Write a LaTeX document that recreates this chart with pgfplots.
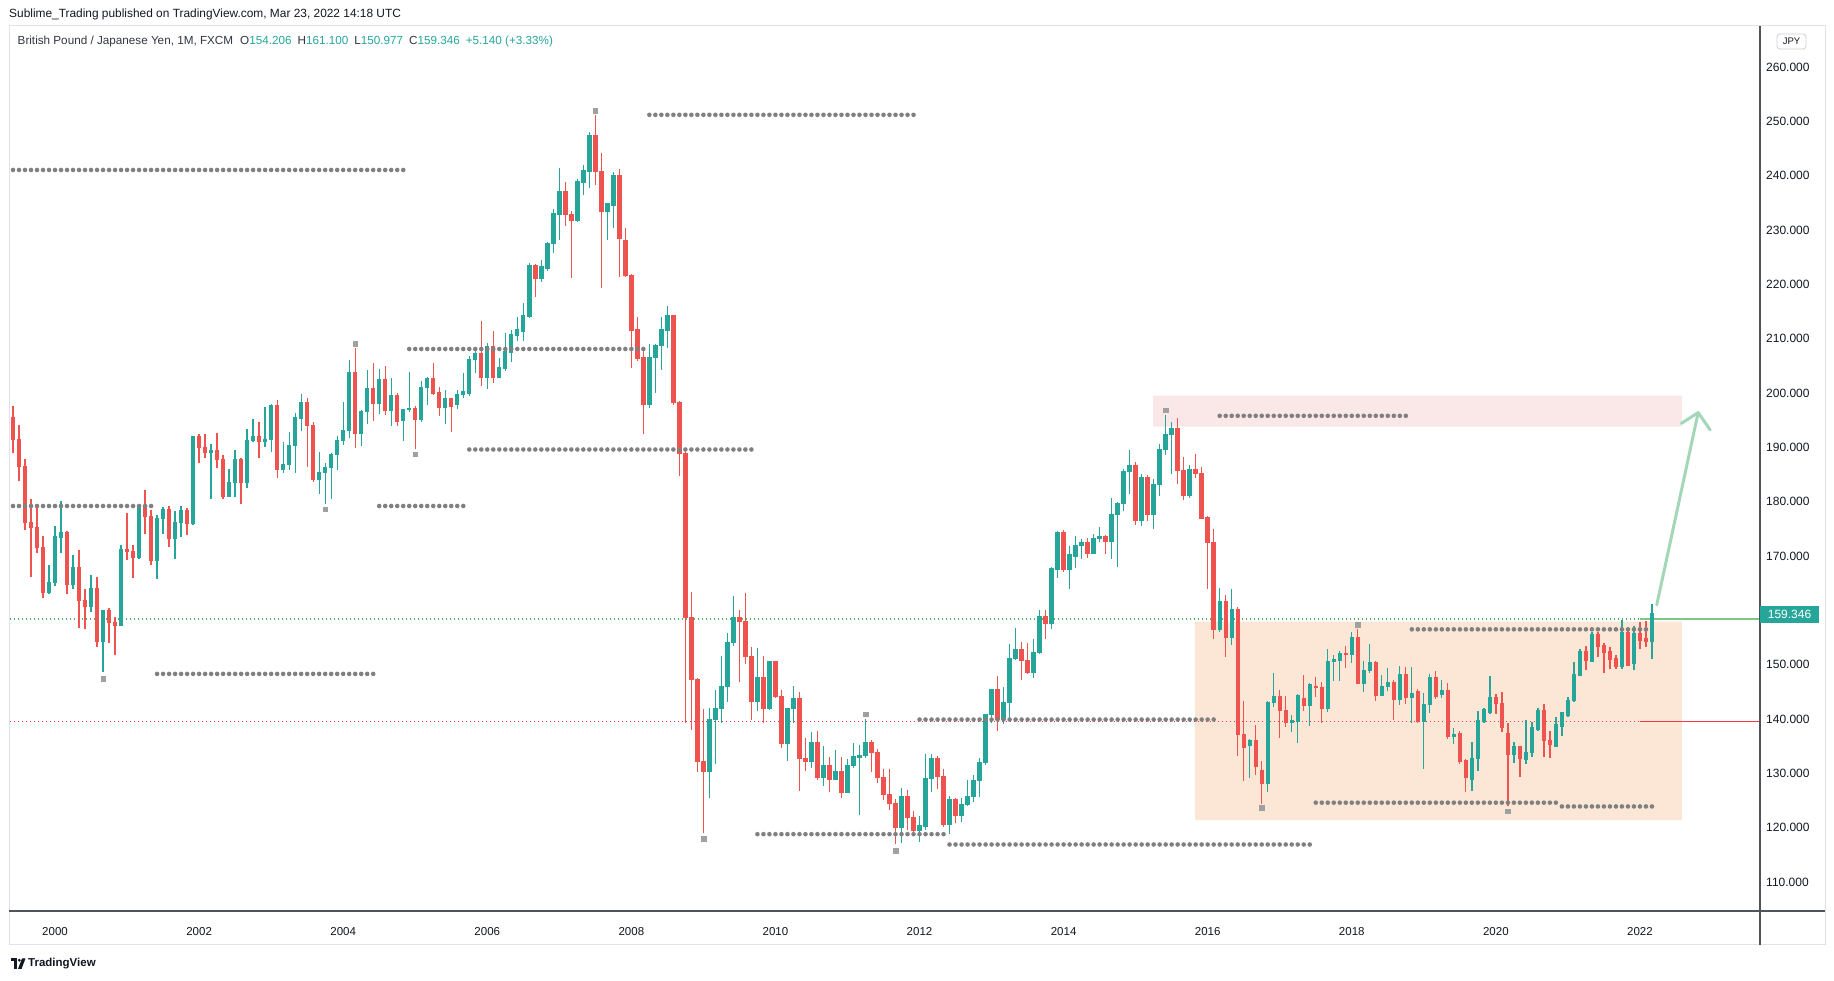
\documentclass[border=0pt]{standalone}
\usepackage{pgfplots}
\pgfplotsset{compat=1.18}
\usepackage{pgfplotstable}
\usepackage{fontspec}
\setmainfont{Liberation Sans}
\definecolor{tvgreen}{RGB}{38,166,154}
\definecolor{tvred}{RGB}{239,83,80}
\definecolor{dotgray}{RGB}{128,128,128}
\definecolor{sqgray}{RGB}{160,160,160}
\definecolor{pinkzone}{RGB}{250,232,232}
\definecolor{peachzone}{RGB}{252,230,214}
\definecolor{framegray}{RGB}{224,227,235}
\definecolor{axisdark}{RGB}{80,83,94}
\definecolor{tvtext}{RGB}{19,23,34}
\definecolor{tvsub}{RGB}{50,54,66}
\definecolor{arrowgreen}{RGB}{163,215,184}
\definecolor{lvlgreen}{RGB}{76,175,80}
\definecolor{lvlgreenlight}{RGB}{129,199,132}
\definecolor{lvlred}{RGB}{242,54,69}

\pgfplotstableread{
i o h l c
0 195.4 197.6 188.9 191.4
1 191.4 194.1 183.8 186.4
2 186.4 187.9 174.7 176.2
3 176.2 180.4 166.2 175.3
4 175.3 179.4 170.6 171.5
5 171.5 173.6 162.2 163.3
6 163.3 168.4 163.0 165.2
7 165.2 175.6 164.5 173.5
8 173.5 180.1 170.6 174.3
9 174.3 174.6 163.0 164.7
10 164.7 170.2 164.0 167.8
11 167.8 171.1 156.8 161.8
12 161.8 163.9 156.6 160.8
13 160.8 166.5 159.6 164.1
14 164.1 166.2 153.2 154.3
15 154.3 160.1 148.6 159.9
16 159.9 160.4 154.0 157.8
17 157.8 158.7 151.8 157.3
18 157.3 172.1 157.3 171.2
19 171.2 178.0 169.3 170.8
20 170.8 172.1 165.9 169.7
21 169.7 179.5 169.4 179.3
22 179.3 182.1 174.0 177.2
23 177.2 178.5 168.3 169.2
24 169.2 177.5 165.7 176.9
25 176.9 179.1 174.0 178.5
26 178.5 179.2 171.6 173.3
27 173.3 178.2 169.4 176.2
28 176.2 179.2 173.5 178.3
29 178.3 178.9 173.8 176.0
30 176.0 191.9 175.7 191.9
31 191.9 192.4 187.2 190.0
32 190.0 192.4 188.0 189.1
33 189.1 190.6 180.5 189.4
34 189.4 192.6 186.2 187.7
35 187.7 188.6 180.5 181.0
36 181.0 186.0 180.8 183.6
37 183.6 189.5 180.8 187.8
38 187.8 188.0 179.6 183.6
39 183.6 193.4 182.6 191.2
40 191.2 195.3 191.0 192.0
41 192.0 194.7 188.0 191.0
42 191.0 197.5 190.1 191.4
43 191.4 197.9 189.2 197.7
44 197.7 198.8 184.4 186.0
45 186.0 191.0 185.3 186.8
46 186.8 192.8 185.9 190.4
47 190.4 196.3 185.3 195.4
48 195.4 199.8 193.0 198.3
49 198.3 199.0 186.4 194.1
50 194.1 194.6 183.6 184.1
51 184.1 189.1 181.4 185.4
52 185.4 187.1 179.6 186.3
53 186.3 188.9 180.5 188.7
54 188.7 192.1 185.9 191.3
55 191.3 198.3 190.5 193.1
56 193.1 206.0 191.7 203.7
57 203.7 208.3 189.9 192.5
58 192.5 196.8 190.3 196.6
59 196.6 204.2 194.3 200.9
60 200.9 205.5 194.9 198.0
61 198.0 204.4 196.2 202.5
62 202.5 204.9 196.0 196.7
63 196.7 202.7 194.0 199.6
64 199.6 200.0 194.0 194.7
65 194.9 197.0 191.2 197.0
66 197.0 203.8 196.5 197.1
67 197.1 197.6 189.7 195.2
68 195.2 202.2 194.7 201.0
69 201.0 202.9 197.8 202.7
70 202.7 205.5 199.7 200.0
71 200.0 201.1 195.8 197.3
72 197.3 200.5 194.3 198.9
73 198.9 199.0 192.9 197.6
74 197.8 200.5 197.1 199.8
75 199.7 203.6 199.1 200.3
76 200.0 206.8 199.5 206.2
77 206.1 208.4 203.6 207.3
78 207.3 213.2 201.3 202.9
79 202.9 209.2 200.7 208.6
80 208.6 211.4 201.8 202.9
81 202.9 206.4 202.7 204.6
82 204.6 211.0 204.0 207.7
83 207.5 211.6 205.7 210.8
84 210.6 213.9 209.6 211.6
85 211.3 216.6 209.6 214.2
86 214.1 223.9 213.8 223.5
87 223.5 223.8 217.6 221.1
88 221.1 224.4 220.5 223.2
89 223.0 227.8 222.5 227.5
90 227.5 233.9 225.8 233.1
91 232.9 241.5 228.1 237.1
92 237.1 238.9 230.8 232.9
93 232.9 233.5 221.2 231.7
94 231.7 239.3 231.4 239.0
95 238.8 241.9 236.5 241.0
96 240.8 248.0 237.8 247.3
97 247.3 251.1 238.2 240.7
98 240.8 244.1 219.3 233.4
99 233.4 235.0 228.1 234.9
100 234.6 240.6 230.4 240.1
101 240.1 241.3 221.4 228.5
102 228.1 230.4 221.4 221.6
103 221.7 221.9 204.6 211.5
104 211.7 214.0 205.9 206.4
105 206.5 208.1 192.5 197.8
106 197.8 209.0 197.2 206.5
107 206.5 209.0 200.0 208.8
108 208.8 214.0 204.2 211.6
109 211.6 216.0 208.2 214.2
110 214.2 214.4 197.8 198.3
111 198.3 198.6 184.7 188.9
112 188.9 189.9 139.3 158.7
113 158.7 163.4 138.0 147.3
114 147.3 147.5 130.2 132.2
115 132.2 141.9 119.0 130.3
116 130.3 142.0 125.5 139.9
117 139.9 145.3 131.7 142.0
118 142.0 151.6 139.2 145.9
119 145.9 155.8 143.2 154.0
120 154.0 162.7 153.5 158.6
121 158.6 160.1 146.9 157.9
122 157.9 163.2 150.2 151.5
123 151.5 153.3 139.9 143.2
124 143.2 153.0 141.5 147.7
125 147.7 151.6 139.3 141.9
126 141.9 150.7 141.7 150.5
127 150.5 150.7 143.8 144.1
128 144.1 145.4 134.7 135.5
129 135.5 142.0 132.2 141.9
130 141.9 146.1 139.3 143.7
131 143.7 145.0 126.8 132.7
132 132.7 136.5 130.5 132.2
133 132.2 137.6 130.9 135.6
134 135.6 137.8 128.8 129.2
135 129.2 135.0 127.7 131.4
136 131.4 133.0 126.5 128.8
137 128.8 134.3 128.8 130.3
138 130.3 133.0 125.5 126.5
139 126.5 132.7 126.3 131.4
140 131.4 135.6 130.9 133.0
141 133.0 135.2 122.4 133.3
142 133.3 140.0 132.8 135.6
143 135.6 136.2 130.3 133.9
144 133.9 134.5 128.3 129.2
145 129.2 130.8 125.0 126.1
146 126.1 130.8 123.3 124.4
147 124.4 125.3 116.9 120.0
148 120.0 127.3 117.1 125.8
149 125.8 126.9 119.5 121.8
150 121.8 123.0 118.5 119.5
151 119.5 122.2 117.4 120.3
152 120.3 133.6 119.6 129.1
153 129.1 133.6 126.6 132.7
154 132.7 133.2 127.2 129.4
155 129.4 130.8 120.2 120.5
156 120.5 125.8 118.9 125.2
157 125.2 125.4 120.9 122.3
158 122.3 125.4 121.1 124.3
159 124.3 128.7 124.0 125.8
160 125.8 129.6 124.7 128.6
161 128.6 132.8 125.6 132.0
162 132.0 140.9 131.5 140.9
163 140.9 145.5 139.3 145.5
164 145.5 147.9 137.8 140.0
165 140.0 145.8 139.1 143.0
166 143.0 153.8 140.2 151.1
167 151.1 156.7 150.8 152.7
168 152.7 154.1 147.1 150.7
169 150.7 153.9 148.2 148.6
170 148.6 154.7 147.5 152.3
171 152.3 160.0 152.0 158.9
172 158.9 160.0 154.7 157.6
173 157.6 167.9 156.5 167.6
174 167.6 174.6 165.9 174.4
175 174.4 174.7 167.0 167.6
176 167.6 171.8 163.9 170.3
177 170.0 173.6 167.7 172.0
178 171.9 173.1 169.4 172.4
179 172.4 173.4 169.6 170.4
180 170.4 174.0 170.3 173.3
181 173.3 175.3 172.5 173.6
182 173.6 173.8 170.3 172.6
183 172.6 180.6 169.4 177.7
184 177.7 180.0 167.9 179.7
185 179.7 186.1 178.2 185.6
186 185.6 189.6 181.5 186.7
187 186.7 187.3 175.7 176.5
188 176.5 185.0 175.5 184.5
189 184.5 184.9 176.4 177.7
190 177.7 184.1 174.9 183.1
191 183.1 190.7 181.0 189.6
192 189.6 195.9 188.5 192.4
193 192.4 194.6 185.0 193.5
194 193.5 195.4 183.2 185.7
195 185.7 188.2 180.3 181.2
196 181.2 186.7 180.6 186.0
197 186.0 188.7 184.3 185.1
198 185.1 186.3 176.9 177.0
199 177.0 177.3 163.9 172.5
200 172.5 174.9 154.7 156.5
201 156.5 164.1 156.1 161.7
202 161.7 162.8 151.5 155.0
203 155.0 163.9 153.6 160.2
204 160.2 160.6 133.2 137.1
205 137.1 143.3 128.6 134.7
206 135.2 136.3 129.2 136.0
207 136.0 138.9 129.7 131.2
208 130.6 132.3 124.3 128.2
209 128.2 143.3 126.6 143.1
210 143.1 148.4 142.2 144.2
211 144.2 145.3 136.5 141.6
212 141.6 144.2 138.5 139.4
213 139.4 140.7 137.6 139.8
214 139.6 144.6 135.6 144.4
215 143.8 148.1 141.4 142.5
216 142.5 146.6 138.7 146.4
217 146.0 147.7 144.0 145.8
218 145.8 146.8 139.3 142.0
219 142.0 152.8 141.2 150.6
220 150.6 151.7 147.0 150.9
221 150.8 152.5 147.0 152.1
222 152.1 153.4 149.3 151.9
223 151.9 156.1 150.3 154.9
224 154.9 156.5 146.4 146.6
225 146.6 150.6 144.9 149.0
226 149.0 153.8 148.4 150.4
227 150.4 150.6 143.3 144.4
228 144.4 148.1 144.2 146.0
229 146.0 149.3 145.1 146.7
230 146.7 147.1 139.9 143.6
231 143.6 149.7 142.5 148.1
232 148.1 149.5 142.7 144.0
233 144.0 149.5 139.3 144.6
234 145.1 145.5 139.3 139.6
235 139.6 144.7 130.8 142.7
236 142.7 148.2 141.1 147.7
237 147.7 148.8 143.6 144.2
238 144.6 147.1 143.8 145.3
239 145.3 146.6 136.4 136.7
240 136.7 138.4 135.4 137.1
241 137.4 137.8 131.7 132.1
242 132.3 132.7 126.6 129.2
243 128.8 135.8 126.8 132.8
244 132.8 141.4 130.4 139.8
245 139.6 142.0 139.3 141.8
246 141.2 147.9 140.9 144.0
247 144.0 144.6 140.9 142.9
248 142.9 144.9 137.6 138.4
249 137.3 139.3 124.0 133.4
250 133.4 135.8 131.9 134.9
251 134.9 135.0 129.3 132.8
252 132.5 139.8 131.7 133.9
253 133.8 139.5 133.0 138.5
254 138.0 142.0 137.8 141.6
255 141.6 142.7 133.0 136.0
256 136.1 137.8 132.8 135.4
257 134.9 140.4 134.9 138.9
258 138.7 141.3 136.9 141.1
259 140.6 144.0 140.4 143.4
260 143.4 150.4 143.1 148.2
261 148.0 152.8 148.0 152.5
262 152.5 153.4 149.0 150.8
263 150.6 156.0 150.6 155.6
264 155.6 156.0 151.4 153.4
265 153.6 153.9 148.4 152.3
266 152.5 153.2 149.2 151.0
267 151.2 151.7 149.2 149.7
268 149.7 158.2 149.2 156.0
269 156.0 156.7 149.7 149.9
270 150.3 157.1 149.0 155.8
271 155.8 157.8 152.8 154.5
272 154.8 158.0 153.2 154.2
273 154.206 161.1 150.977 159.346
}\gbpjpy

\begin{document}
\begin{tikzpicture}
\path[use as bounding box, fill=white] (0pt,0pt) rectangle (1834pt,981pt);
% frame
\draw[framegray, line width=1pt] (9pt,36pt) rectangle (1825pt,955pt);

\begin{axis}[
  at={(10pt,70pt)}, anchor=south west,
  width=1750pt, height=885pt, scale only axis,
  xmin=-0.5, xmax=291, ymin=104.66, ymax=267.55,
  axis line style={draw=none},
  tick style={draw=none},
  major tick length=0pt,
  xtick={7,31,55,79,103,127,151,175,199,223,247,271},
  xticklabels={2000,2002,2004,2006,2008,2010,2012,2014,2016,2018,2020,2022},
  xticklabel style={anchor=center, yshift=-21pt, text=tvtext, font=\fontsize{11.5}{12}\selectfont},
  ytick={110,120,130,140,150,170,180,190,200,210,220,230,240,250,260},
  yticklabel pos=right,
  yticklabel style={anchor=west, inner sep=0pt, xshift=6pt, text=tvtext, font=\fontsize{12}{12}\selectfont,
    /pgf/number format/fixed, /pgf/number format/fixed zerofill,
    /pgf/number format/precision=3, /pgf/number format/1000 sep={},
    /pgf/number format/assume math mode=true},
  candle/.style n args={2}{draw=none, mark=none,
    error bars/.cd, y dir=both, y explicit, error mark=none,
    error bar style={line width=#1, draw=#2, solid}},
]
% zones
\addplot[fill=pinkzone, draw=none] coordinates {(189.9,193.8) (278,193.8) (278,199.5) (189.9,199.5) (189.9,193.8)};
\addplot[fill=peachzone, draw=none] coordinates {(196.9,121.4) (278,121.4) (278,157.9) (196.9,157.9) (196.9,121.4)};
% level lines
\addplot[lvlred, line width=1.2pt, dash pattern=on 1.2pt off 2.8pt] coordinates {(-0.5,139.5) (271,139.5)};
\addplot[lvlred, line width=1.2pt] coordinates {(271,139.5) (291,139.5)};
\addplot[lvlgreen, line width=1.2pt, dash pattern=on 1.2pt off 2.8pt] coordinates {(-0.5,158.4) (271,158.4)};
\addplot[lvlgreenlight, line width=1.6pt] coordinates {(271,158.4) (291,158.4)};

% wicks
\addplot[restrict expr to domain={\thisrow{c}-\thisrow{o}}{0:1000}, candle={1.3pt}{tvgreen}]
  table[x=i, y expr={(\thisrow{h}+\thisrow{l})/2}, y error expr={(\thisrow{h}-\thisrow{l})/2}] {\gbpjpy};
\addplot[restrict expr to domain={\thisrow{c}-\thisrow{o}}{-1000:0}, candle={1.3pt}{tvred}]
  table[x=i, y expr={(\thisrow{h}+\thisrow{l})/2}, y error expr={(\thisrow{h}-\thisrow{l})/2}] {\gbpjpy};
% bodies
\addplot[restrict expr to domain={\thisrow{c}-\thisrow{o}}{0:1000}, candle={4.4pt}{tvgreen}]
  table[x=i, y expr={(\thisrow{o}+\thisrow{c})/2}, y error expr={abs(\thisrow{c}-\thisrow{o})/2+0.1}] {\gbpjpy};
\addplot[restrict expr to domain={\thisrow{c}-\thisrow{o}}{-1000:0}, candle={4.4pt}{tvred}]
  table[x=i, y expr={(\thisrow{o}+\thisrow{c})/2}, y error expr={abs(\thisrow{c}-\thisrow{o})/2+0.1}] {\gbpjpy};

% dotted support / resistance rows (one dot per month)
\pgfplotsset{dotrow/.style={dotgray, line width=4.6pt, line cap=round, dash pattern=on 0pt off 6.0034pt}}
\addplot[dotrow] coordinates {(0,241.05) (65.1,241.05)};
\addplot[dotrow] coordinates {(106,251.2) (150.1,251.2)};
\addplot[dotrow] coordinates {(66,208.1) (105.1,208.1)};
\addplot[dotrow] coordinates {(76,189.6) (123.1,189.6)};
\addplot[dotrow] coordinates {(0,179.2) (23.1,179.2)};
\addplot[dotrow] coordinates {(61,179.2) (75.1,179.2)};
\addplot[dotrow] coordinates {(24,148.3) (60.1,148.3)};
\addplot[dotrow] coordinates {(124,118.8) (155.1,118.8)};
\addplot[dotrow] coordinates {(156,116.9) (216.1,116.9)};
\addplot[dotrow] coordinates {(151,139.9) (200.1,139.9)};
\addplot[dotrow] coordinates {(201,195.8) (232.1,195.8)};
\addplot[dotrow] coordinates {(233,156.5) (272.1,156.5)};
\addplot[dotrow] coordinates {(217,124.6) (257.1,124.6)};
\addplot[dotrow] coordinates {(258,123.9) (273.1,123.9)};

% pivot squares
\addplot[only marks, mark=square*, mark size=2.3pt, color=sqgray] coordinates {
(15,147.4) (52,178.6) (57,209.1) (67,188.7) (97,252.0) (115,118.0)
(142,140.9) (147,115.8) (192,196.8) (208,123.7) (224,157.4) (249,123.0)};

% projection arrow
\addplot[arrowgreen, line width=3pt, line cap=round] coordinates {(273.8,161.0) (280.7,196.4)};
\addplot[arrowgreen, line width=3pt, line cap=round, line join=round] coordinates {(277.9,194.4) (280.7,196.4) (282.7,193.2)};
\end{axis}

% axis lines
\draw[axisdark, line width=1.3pt] (9pt,70pt) -- (1825pt,70pt);
\draw[axisdark, line width=1.3pt] (1760pt,36pt) -- (1760pt,955pt);

% last price label
\fill[tvgreen] (1760pt,358pt) rectangle (1819pt,375pt);
\node[text=white, font=\fontsize{12}{12}\selectfont, inner sep=0pt] at (1789.5pt,366.5pt) {159.346};

% currency box
\draw[framegray!80!gray, line width=0.8pt, rounded corners=3pt] (1777pt,932pt) rectangle (1806pt,947pt);
\node[text=tvtext, font=\fontsize{9.5}{10}\selectfont, inner sep=0pt] at (1791.5pt,939.5pt) {JPY};

% header
\node[anchor=west, inner sep=0pt, text=tvtext, font=\fontsize{11.9}{12}\selectfont] at (9pt,967pt)
  {Sublime\_Trading published on TradingView.com, Mar 23, 2022 14:18 UTC};
\node[anchor=west, inner sep=0pt, text=tvsub, font=\fontsize{11.7}{12}\selectfont] at (17.5pt,940pt)
  {British Pound / Japanese Yen, 1M, FXCM\hspace{7pt}O\textcolor{tvgreen}{154.206}\hspace{6pt}H\textcolor{tvgreen}{161.100}\hspace{6pt}L\textcolor{tvgreen}{150.977}\hspace{6pt}C\textcolor{tvgreen}{159.346}\hspace{6pt}\textcolor{tvgreen}{+5.140 (+3.33\%)}};

% TradingView logo
\fill[tvtext] (10.5pt,19.5pt) rectangle (17pt,22.5pt);
\fill[tvtext] (13.5pt,12pt) rectangle (17pt,22.5pt);
\fill[tvtext] (19.3pt,20.8pt) circle (1.6pt);
\fill[tvtext] (22pt,22.5pt) -- (25.5pt,22.5pt) -- (21.5pt,12pt) -- (18pt,12pt) -- cycle;
\node[anchor=west, inner sep=0pt, text=tvtext, font=\bfseries\fontsize{11.5}{12}\selectfont] at (28pt,17pt) {TradingView};
\end{tikzpicture}
\end{document}
